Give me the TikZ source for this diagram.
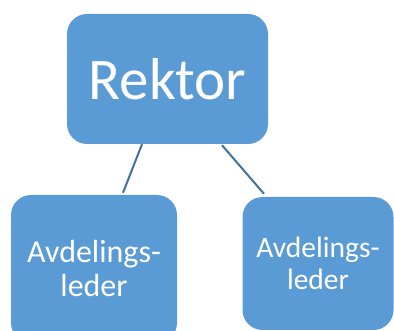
\documentclass[tikz,border=0pt]{standalone}
\usepackage{fontspec}
\setmainfont{Carlito}
\definecolor{boxfill}{HTML}{5B9BD5}
\definecolor{linkcol}{HTML}{41719C}
\begin{document}
\begin{tikzpicture}[x=1pt,y=-1pt,
  orgbox/.style={fill=boxfill, draw=none, rounded corners=20pt, text=white, align=center, inner sep=0pt},
  link/.style={draw=linkcol, line width=2pt}]
\useasboundingbox (0,0) rectangle (394,331);
\clip (0,0) rectangle (394,331);
\node[orgbox, minimum width=201pt, minimum height=130pt, font=\fontsize{59}{70}\selectfont] (rektor) at (167.5,79) {Rektor};
\node[orgbox, minimum width=166pt, minimum height=148pt, font=\fontsize{32}{34}\selectfont] (left) at (94,269) {Avdelings-\\leder};
\node[orgbox, minimum width=151pt, minimum height=133pt, font=\fontsize{29.5}{32}\selectfont] (right) at (318,263.5) {Avdelings-\\leder};
\draw[link] ([xshift=-25.5pt]rektor.south) -- ([xshift=29pt,yshift=2pt]left.north);
\draw[link] ([xshift=54.5pt,yshift=-1pt]rektor.south) -- ([xshift=-54pt,yshift=3pt]right.north);
\end{tikzpicture}
\end{document}
